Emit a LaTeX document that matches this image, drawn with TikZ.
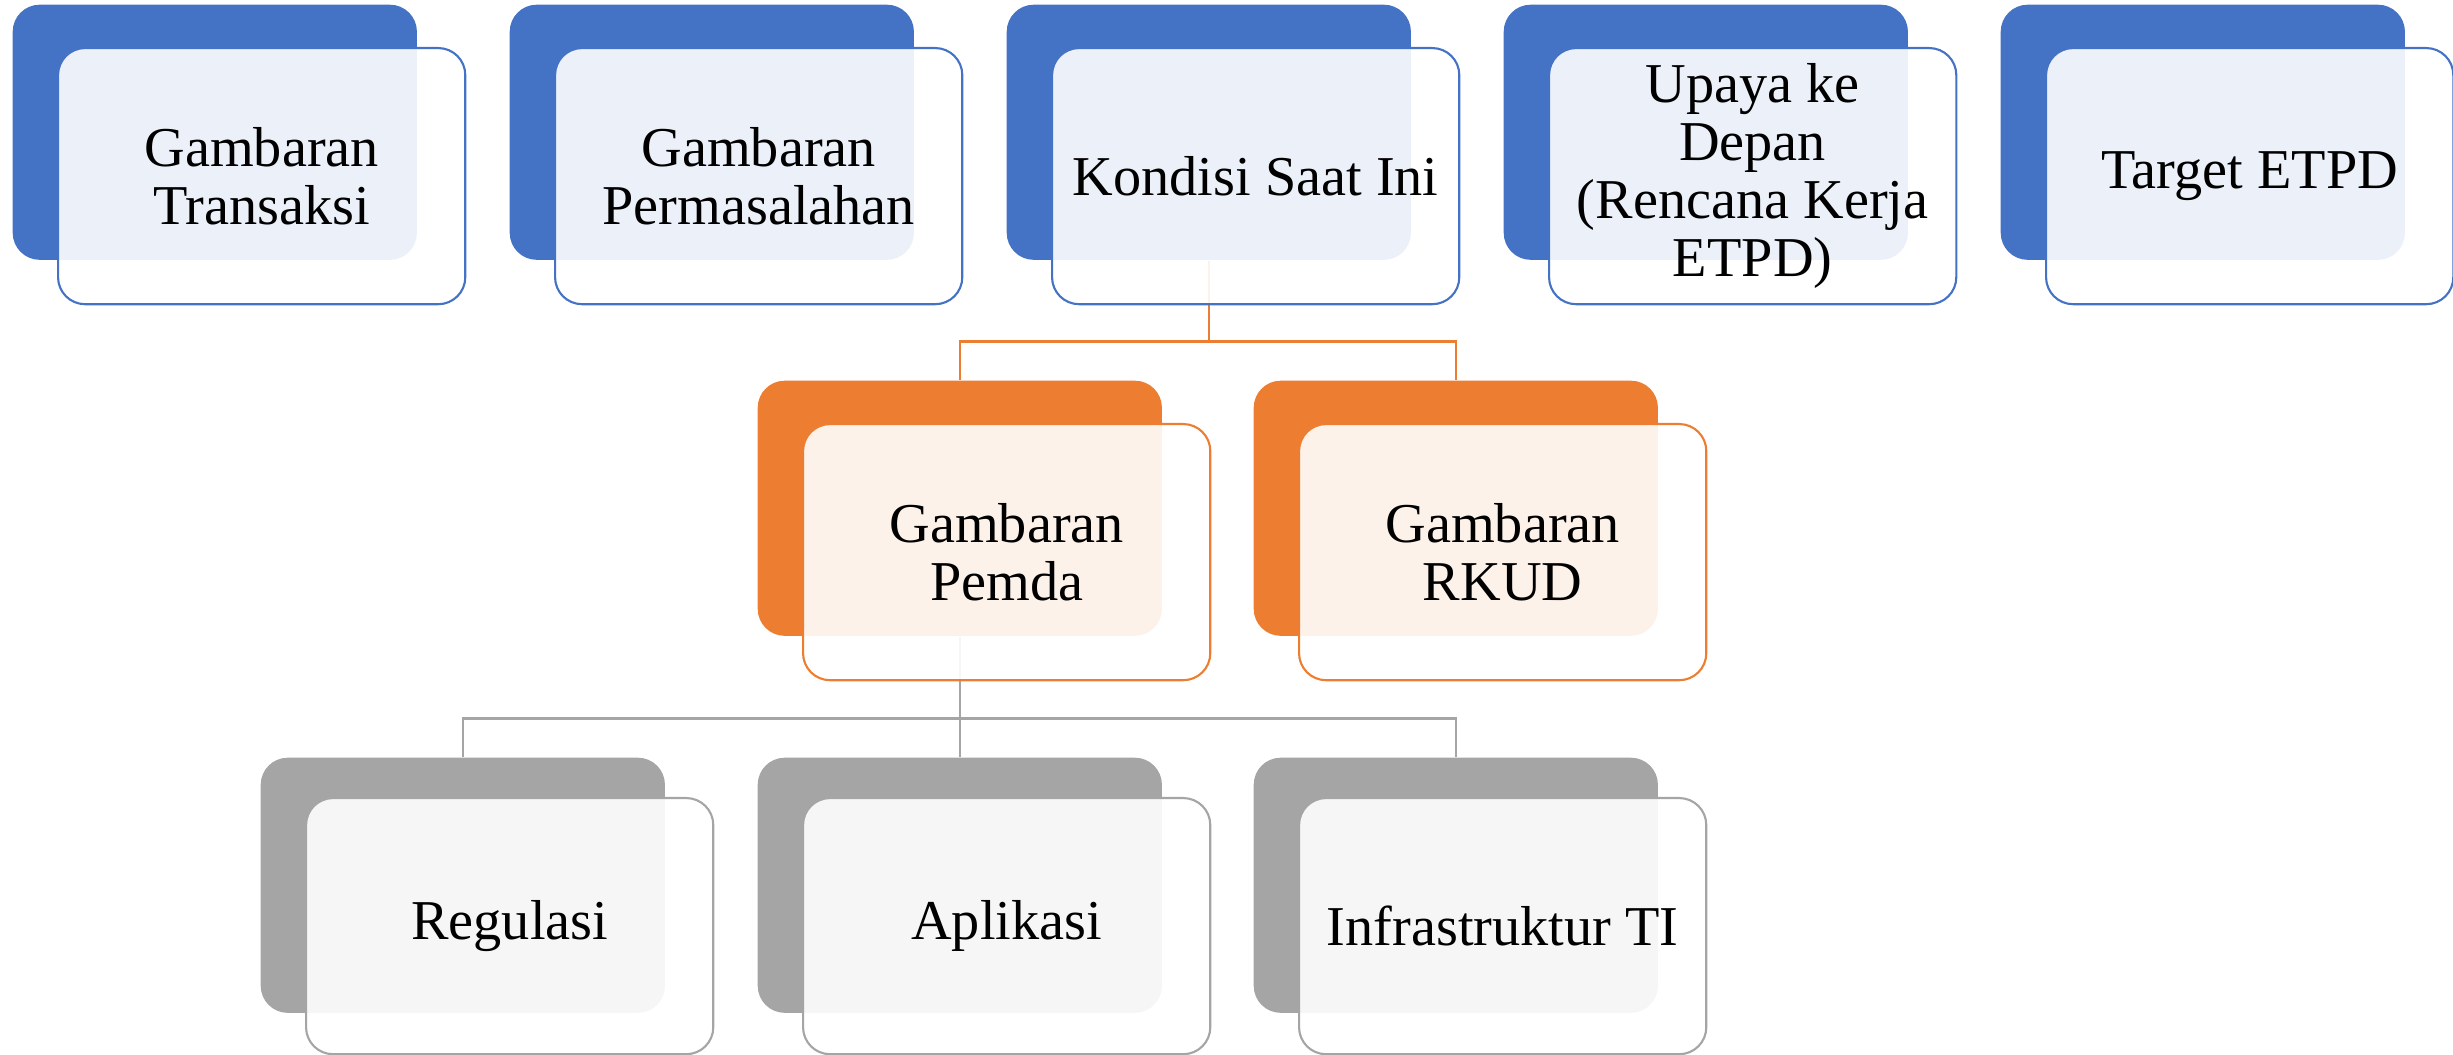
\documentclass[tikz,border=0pt]{standalone}
\usepackage{fontspec}
\setmainfont{Liberation Serif}
\definecolor{blueA}{HTML}{4472C4}
\definecolor{orangeA}{HTML}{ED7D31}
\definecolor{grayA}{HTML}{A5A5A5}

\begin{document}
\begin{tikzpicture}[x=0.01cm,y=-0.01cm]
        \useasboundingbox (0,0) rectangle (2453,1055);

        \begin{scope}[every node/.style={anchor=north west, rounded corners=0.27cm, inner sep=0pt,
            minimum width=4.04cm, minimum height=2.55cm}]
          \node[fill=blueA]   (1)  at (12,4)    {};
          \node[fill=blueA]   (2)  at (509,4)   {};
          \node[fill=blueA]   (3)  at (1006,4)  {};
          \node[fill=blueA]   (4)  at (1503,4)  {};
          \node[fill=blueA]   (5)  at (2000,4)  {};
          \node[fill=orangeA] (6)  at (757,380)  {};
          \node[fill=orangeA] (7)  at (1253,380) {};
          \node[fill=grayA]   (8)  at (260,757)  {};
          \node[fill=grayA]   (9)  at (757,757)  {};
          \node[fill=grayA]   (10) at (1253,757) {};
        \end{scope}

        \begin{scope}[line width=0.6pt]
          \draw[orangeA] (3.south) -- ++(0,81) -| (6.north);
          \draw[orangeA] (3.south) -- ++(0,81) -| (7.north);
          \draw[grayA] (6.south) -- ++(0,82) -| (8.north);
          \draw[grayA] (6.south) -- ++(0,82) -| (9.north);
          \draw[grayA] (6.south) -- ++(0,82) -| (10.north);
        \end{scope}

        \begin{scope}[every node/.style={anchor=north west, rounded corners=0.27cm, inner sep=0pt,
            minimum width=4.07cm, minimum height=2.56cm, draw, line width=0.6pt,
            fill=white, fill opacity=0.9, text opacity=1, align=center,
            font=\fontsize{16}{16.5}\selectfont}]
          \node[draw=blueA]   (f1)  at (57,47)    {Gambaran\\Transaksi};
          \node[draw=blueA]   (f2)  at (554,47)   {Gambaran\\Permasalahan};
          \node[draw=blueA]   (f3)  at (1051,47)  {Kondisi Saat Ini};
          \node[draw=blueA]   (f4)  at (1548,47)  {Upaya ke\\Depan\\(Rencana Kerja\\ETPD)};
          \node[draw=blueA]   (f5)  at (2045,47)  {Target ETPD};
          \node[draw=orangeA] (f6)  at (802,423)  {Gambaran\\Pemda};
          \node[draw=orangeA] (f7)  at (1298,423) {Gambaran\\RKUD};
          \node[draw=grayA]   (f8)  at (305,797)  {Regulasi};
          \node[draw=grayA]   (f9)  at (802,797)  {Aplikasi};
          \node[draw=grayA]   (f10) at (1298,797) {Infrastruktur TI};
        \end{scope}

      \end{tikzpicture}
\end{document}
